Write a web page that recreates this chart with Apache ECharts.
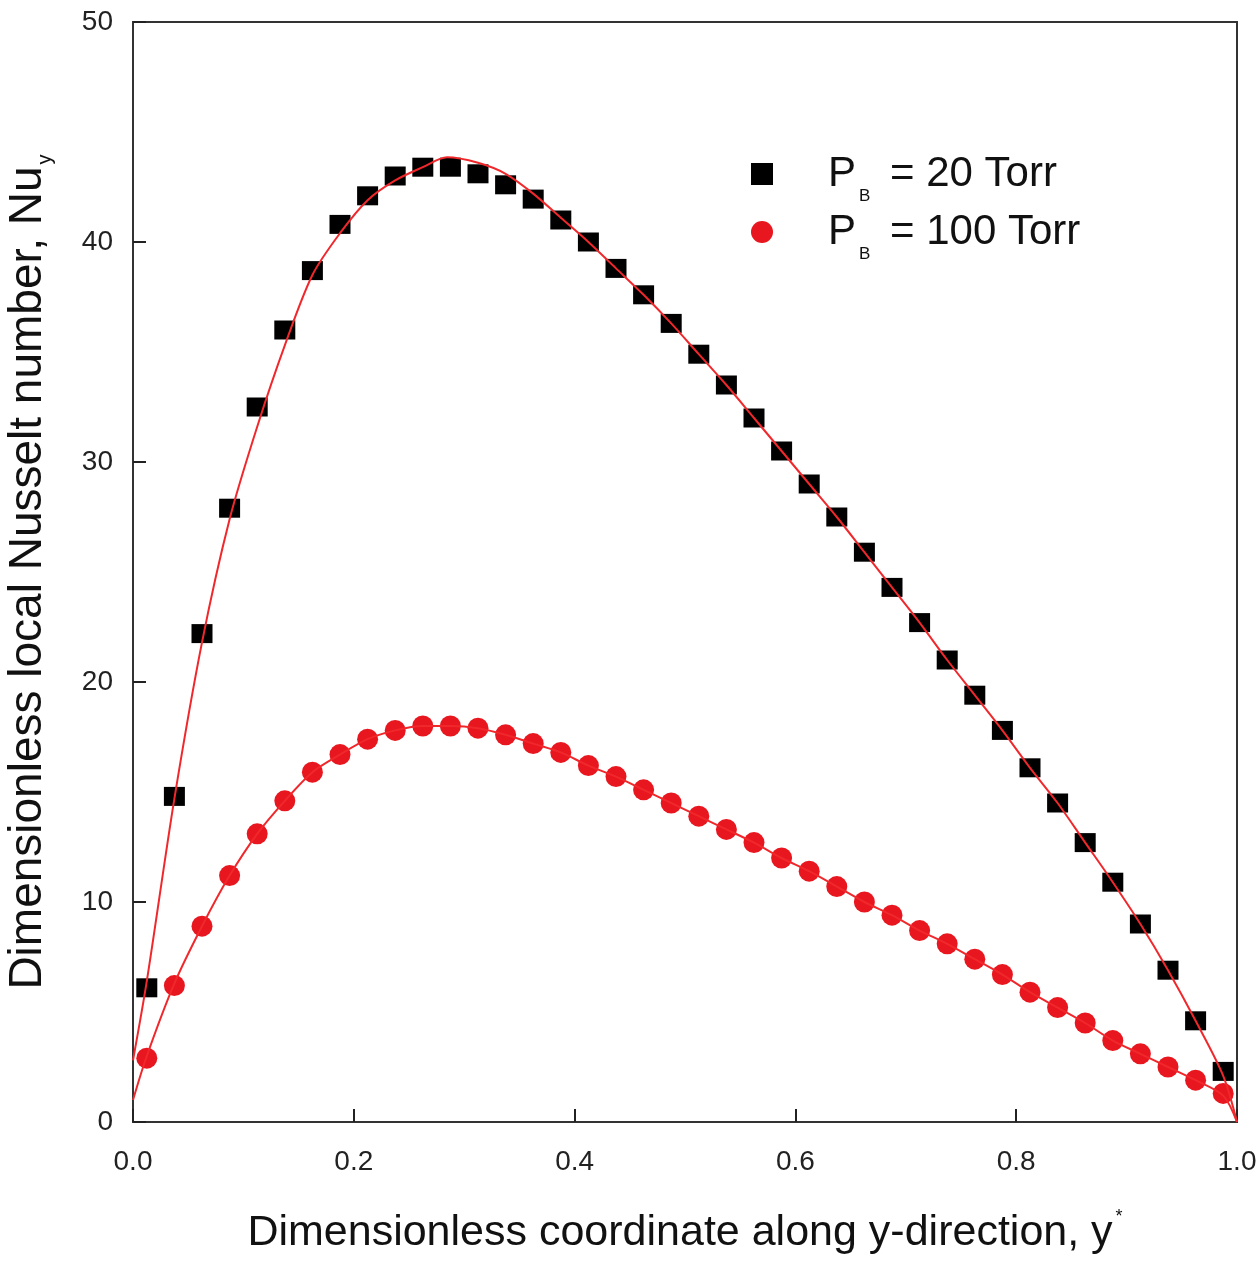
<!DOCTYPE html>
<html>
<head>
<meta charset="utf-8">
<script src="https://cdn.jsdelivr.net/npm/echarts@6/dist/echarts.min.js"></script>
<style>html,body{margin:0;padding:0;background:#fff;}#c{width:1260px;height:1262px;}</style>
</head>
<body>
<div id="c"></div>
<script>
// ---- data ----
var xPts = [0.0125,0.0375,0.0625,0.0875,0.1125,0.1375,0.1625,0.1875,0.2125,0.2375,
            0.2625,0.2875,0.3125,0.3375,0.3625,0.3875,0.4125,0.4375,0.4625,0.4875,
            0.5125,0.5375,0.5625,0.5875,0.6125,0.6375,0.6625,0.6875,0.7125,0.7375,
            0.7625,0.7875,0.8125,0.8375,0.8625,0.8875,0.9125,0.9375,0.9625,0.9875];
var nu20 = [6.1,14.8,22.2,27.9,32.5,36.0,38.7,40.8,42.1,43.0,
            43.4,43.4,43.1,42.6,41.95,41.0,40.0,38.8,37.6,36.3,
            34.9,33.5,32.0,30.5,29.0,27.5,25.9,24.3,22.7,21.0,
            19.4,17.8,16.1,14.5,12.7,10.9,9.0,6.9,4.6,2.3];
var nu100 = [2.9,6.2,8.9,11.2,13.1,14.6,15.9,16.7,17.4,17.8,
             18.0,18.0,17.9,17.6,17.2,16.8,16.2,15.7,15.1,14.5,
             13.9,13.3,12.7,12.0,11.4,10.7,10.0,9.4,8.7,8.1,
             7.4,6.7,5.9,5.2,4.5,3.7,3.1,2.5,1.9,1.3];
var fitX20 = [0,0.0125,0.0375,0.0625,0.0875,0.1125,0.1375,0.1625,0.1875,0.2125,0.2375,0.2625,0.2845,0.3125,0.3375,0.3625,0.3875,0.4125,0.4375,0.4625,0.4875,0.5125,0.5375,0.5625,0.5875,0.6125,0.6375,0.6625,0.6875,0.7125,0.7375,0.7625,0.7875,0.8125,0.8375,0.8625,0.8875,0.9125,0.9375,0.9625,0.9875,1.0];
var fitY20 = [2.8,6.4,14.7,21.8,27.4,31.6,35.3,38.5,40.4,41.9,42.8,43.4,43.85,43.6,43.1,42.2,41.1,40.0,38.8,37.6,36.3,34.9,33.5,32.0,30.5,29.0,27.5,25.9,24.3,22.7,21.0,19.4,17.8,16.1,14.5,12.7,10.9,9.0,6.9,4.6,2.1,0.0];
var fitX100 = [0,0.0125,0.0375,0.0625,0.0875,0.1125,0.1375,0.1625,0.1875,0.2125,0.2375,0.2625,0.2875,0.3125,0.3375,0.3625,0.3875,0.4125,0.4375,0.4625,0.4875,0.5125,0.5375,0.5625,0.5875,0.6125,0.6375,0.6625,0.6875,0.7125,0.7375,0.7625,0.7875,0.8125,0.8375,0.8625,0.8875,0.9125,0.9375,0.9625,0.9875,1.0];
var fitY100 = [1.0,3.0,6.3,8.9,11.2,13.1,14.6,15.9,16.7,17.4,17.8,18.0,18.0,17.9,17.6,17.2,16.8,16.2,15.7,15.1,14.5,13.9,13.3,12.7,12.0,11.4,10.7,10.0,9.4,8.7,8.1,7.4,6.7,5.9,5.2,4.5,3.7,3.1,2.5,1.9,1.2,0.0];
var xTicks = ['0.0','0.2','0.4','0.6','0.8','1.0'];
var yTicks = ['0','10','20','30','40','50'];
var names = ['P_B = 20 Torr','P_B = 100 Torr'];

function zip(a,b){ return a.map(function(v,i){ return [v,b[i]]; }); }

var chart = echarts.init(document.getElementById('c'), null, {renderer:'canvas'});
var font = 'Liberation Sans, Arial, sans-serif';
var option = {
  backgroundColor: '#fff',
  animation: false,
  textStyle: {fontFamily: font},
  grid: {left:133, right:23, top:22, bottom:140, containLabel:false, outerBoundsMode:'none',
         show:true, borderColor:'#333', borderWidth:2, backgroundColor:'transparent'},
  legend: {
    orient: 'vertical', left: 746, top: 148, itemWidth: 22, itemHeight: 22, itemGap: 6,
    data: [{name: names[0], icon: 'rect'}, {name: names[1], icon: 'circle'}],
    formatter: function(n){
      var rest = n.split('_B')[1];
      return '{p|P}{s|B}{t|' + rest + '}';
    },
    textStyle: {
      fontFamily: font, color:'#111',
      rich: {
        p: {fontSize: 42, fontFamily: font, color:'#111', padding:[0,0,0,50], verticalAlign:'middle', lineHeight:62},
        s: {fontSize: 17, fontFamily: font, color:'#111', verticalAlign:'bottom', lineHeight:62, padding:[0,8,0,3]},
        t: {fontSize: 42, fontFamily: font, color:'#111', verticalAlign:'middle', lineHeight:62}
      }
    }
  },
  xAxis: {
    type:'value', min:0, max:1, interval:0.2,
    axisLine:{lineStyle:{color:'#333', width:2}},
    axisTick:{inside:true, length:13, lineStyle:{color:'#222', width:2}},
    splitLine:{show:false},
    axisLabel:{fontSize:28, color:'#222', margin:26, fontFamily:font,
      formatter:function(v){ var i=Math.round(v/0.2); return xTicks[i]; }},
    name:'{a|Dimensionless coordinate along y-direction, y}{b|*}',
    nameLocation:'middle', nameGap:86,
    nameTextStyle:{fontFamily:font, rich:{
      a:{fontSize:43, color:'#111', fontFamily:font, verticalAlign:'middle', lineHeight:50},
      b:{fontSize:18, color:'#111', fontFamily:font, verticalAlign:'top', lineHeight:50, padding:[0,0,0,3]}
    }}
  },
  yAxis: {
    type:'value', min:0, max:50, interval:10,
    axisLine:{lineStyle:{color:'#333', width:2}},
    axisTick:{inside:true, length:13, lineStyle:{color:'#222', width:2}},
    splitLine:{show:false},
    axisLabel:{fontSize:28, color:'#222', margin:20, fontFamily:font,
      formatter:function(v){ return yTicks[Math.round(v/10)]; }},
    name:'{a|Dimensionless local Nusselt number, Nu}{b|y}',
    nameLocation:'middle', nameGap:78, nameRotate:90,
    nameTextStyle:{fontFamily:font, rich:{
      a:{fontSize:46, color:'#111', fontFamily:font, verticalAlign:'middle', lineHeight:54},
      b:{fontSize:20, color:'#111', fontFamily:font, verticalAlign:'bottom', lineHeight:54, padding:[0,0,0,2]}
    }}
  },
  series: [
    {name: 'fit20', type:'line', data: zip(fitX20, fitY20), showSymbol:false, smooth:0.3,
     lineStyle:{color:'#f0282c', width:2, opacity:1}, z:3, silent:true},
    {name: 'fit100', type:'line', data: zip(fitX100, fitY100), showSymbol:false, smooth:0.3,
     lineStyle:{color:'#f0282c', width:2, opacity:1}, z:3, silent:true},
    {name: names[0], type:'scatter', data: zip(xPts, nu20), symbol:'rect', symbolSize:[21,19],
     itemStyle:{color:'#000', opacity:1}, z:2},
    {name: names[1], type:'scatter', data: zip(xPts, nu100), symbol:'circle', symbolSize:21,
     itemStyle:{color:'#e8161e', opacity:1}, z:2}
  ]
};
chart.setOption(option);
</script>
</body>
</html>
